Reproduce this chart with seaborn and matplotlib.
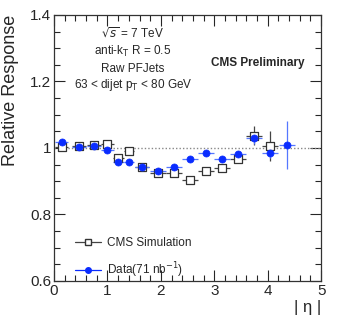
import numpy as np
import pandas as pd
import matplotlib
matplotlib.use("Agg")
import matplotlib.pyplot as plt
import seaborn as sns
from matplotlib.ticker import MultipleLocator
from matplotlib.lines import Line2D

eta = [0.14, 0.46, 0.75, 1.00, 1.20, 1.40, 1.65, 1.95, 2.25, 2.55, 2.85, 3.15, 3.45, 3.75, 4.05, 4.36]
eta_err = [0.13, 0.13, 0.13, 0.13, 0.10, 0.09, 0.13, 0.15, 0.15, 0.15, 0.15, 0.15, 0.15, 0.15, 0.15, 0.15]
data_resp = [1.017, 1.002, 1.007, 0.995, 0.957, 0.958, 0.942, 0.930, 0.944, 0.967, 0.985, 0.967, 0.982, 1.030, 0.985, 1.010]
data_err = [0.004, 0.003, 0.003, 0.004, 0.004, 0.004, 0.004, 0.004, 0.004, 0.004, 0.004, 0.008, 0.010, 0.018, 0.016, 0.072]
sim_resp = [1.004, 1.007, 1.010, 1.012, 0.969, 0.990, 0.942, 0.924, 0.924, 0.903, 0.930, 0.940, 0.967, 1.037, 1.007]
sim_err = [0.003, 0.003, 0.003, 0.003, 0.003, 0.003, 0.003, 0.003, 0.003, 0.003, 0.006, 0.010, 0.013, 0.028, 0.045]

sns.set_style("ticks")
plt.rcParams['font.family'] = ['Liberation Sans', 'DejaVu Sans']

fig = plt.figure(figsize=(3.38, 3.24), dpi=100)
ax = fig.add_axes([0.16, 0.133, 0.79, 0.821])

blue = "#0a2cff"
sim_df = pd.DataFrame({"eta": eta[:len(sim_resp)], "resp": sim_resp})
data_df = pd.DataFrame({"eta": eta, "resp": data_resp})

ax.axhline(1.0, color="#888888", ls=(0, (1, 1.5)), lw=1.0, zorder=1)

ax.errorbar(eta[:len(sim_resp)], sim_resp, xerr=eta_err[:len(sim_resp)], yerr=sim_err,
            fmt="none", ecolor="#444444", elinewidth=0.9, zorder=2)
ax.errorbar(eta, data_resp, xerr=eta_err, yerr=data_err,
            fmt="none", ecolor="#5577ff", elinewidth=0.9, zorder=3)
sns.scatterplot(data=sim_df, x="eta", y="resp", ax=ax, marker="s", s=26,
                facecolor="white", edgecolor="#333333", linewidth=0.9, zorder=4)
sns.scatterplot(data=data_df, x="eta", y="resp", ax=ax, marker="o", s=26,
                color=blue, edgecolor=blue, linewidth=0.5, zorder=5)

ax.set_xlim(0, 5)
ax.set_ylim(0.6, 1.4)
ax.xaxis.set_major_locator(MultipleLocator(1))
ax.xaxis.set_minor_locator(MultipleLocator(0.2))
ax.yaxis.set_major_locator(MultipleLocator(0.2))
ax.yaxis.set_minor_locator(MultipleLocator(0.05))
ax.set_yticks([0.6, 0.8, 1.0, 1.2, 1.4])
ax.set_yticklabels(["0.6", "0.8", "1", "1.2", "1.4"])
ax.tick_params(which="both", direction="in", top=True, right=True, labelsize=11, pad=2)
ax.tick_params(which="major", length=8, width=0.8)
ax.tick_params(which="minor", length=4, width=0.8)
for sp in ax.spines.values():
    sp.set_linewidth(0.9)
    sp.set_color("#333333")

ax.set_xlabel("| η |", fontsize=12, loc="right", labelpad=2)
ax.set_ylabel("Relative Response", fontsize=13, loc="top", labelpad=8)

cx = 1.48
ax.text(cx, 1.343, "$\\sqrt{s}$ = 7 TeV", ha="center", va="center", fontsize=8.5)
ax.text(cx, 1.29, "anti-k$_{\\mathrm{T}}$ R = 0.5", ha="center", va="center", fontsize=8.5)
ax.text(cx, 1.237, "Raw PFJets", ha="center", va="center", fontsize=8.5)
ax.text(cx, 1.19, "63 < dijet p$_{\\mathrm{T}}$ < 80 GeV", ha="center", va="center", fontsize=8.5)
ax.text(4.68, 1.255, "CMS Preliminary", ha="right", va="center", fontsize=8.5, fontweight="bold")

handles = [
    Line2D([0], [0], color="#444444", lw=0.9, marker="s", markersize=4,
           markerfacecolor="white", markeredgecolor="#333333"),
    Line2D([0], [0], color=blue, lw=0.9, marker="o", markersize=4,
           markerfacecolor=blue, markeredgecolor=blue),
]
ax.legend(handles, ["CMS Simulation", "Data(71 nb$^{-1}$)"], loc="lower left",
          bbox_to_anchor=(0.04, -0.035), frameon=False, fontsize=8.5, handlelength=2.2,
          labelspacing=0.9, handletextpad=0.5)

fig.savefig("out.png", dpi=100)
